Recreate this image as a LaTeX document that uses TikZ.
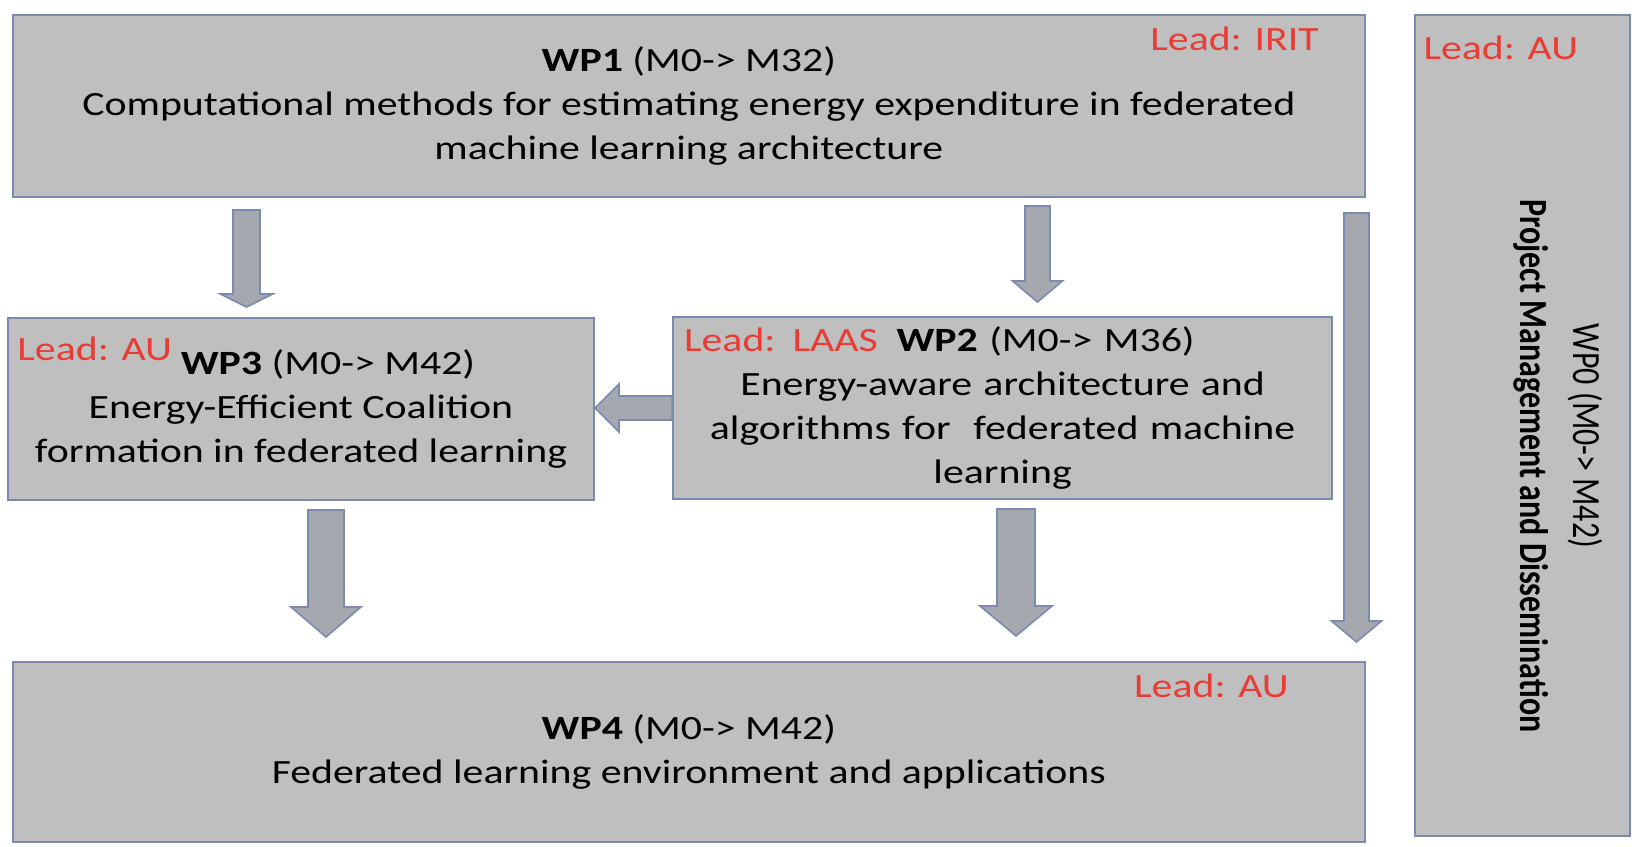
\documentclass[tikz,border=0pt]{standalone}
\usepackage{fontspec}
\setmainfont[FakeStretch=1.23]{Carlito}
\newfontfamily\sidefont[FakeStretch=0.8]{Carlito}
\usepackage{tikz}
\usetikzlibrary{positioning}
\usetikzlibrary{calc}
\usepackage{xcolor}

\definecolor{boxgray}{RGB}{191,191,191}
\definecolor{edgeblue}{RGB}{124,138,176}
\definecolor{arrowgray}{RGB}{166,168,176}
\definecolor{leadred}{RGB}{232,60,52}

% block arrow: from, to, half shaft, half head, head length
\newcommand{\wparrow}[5]{%
  \coordinate (hb) at ($(#2)!#5!(#1)$);
  \filldraw[wp arrow]
    ($(#1)!#3!90:(#2)$) -- ($(hb)!#3!-90:(#1)$) -- ($(hb)!#4!-90:(#1)$)
    -- (#2) -- ($(hb)!#4!90:(#1)$) -- ($(hb)!#3!90:(#1)$)
    -- ($(#1)!#3!-90:(#2)$) -- cycle;
}

\begin{document}
\begin{tikzpicture}[
    x=1pt, y=1pt,
    font=\fontsize{17}{22}\selectfont,
    wp box/.style={draw=edgeblue, fill=boxgray, line width=1pt, align=center, inner sep=0pt},
    wp arrow/.style={draw=edgeblue, fill=arrowgray, line width=0.8pt, line join=miter},
    lead/.style={text=leadred, inner sep=0pt},
    side/.style={rotate=-90, inner sep=0pt, font=\sidefont\fontsize{20}{24}\selectfont}
]
\useasboundingbox (0,0) rectangle (819,-423);

\node[wp box, minimum width=676.3pt, minimum height=91pt] (wpone) at (344.4,-53)
    {\textbf{WP1} (M0-> M32)\\
     Computational methods for estimating energy expenditure in federated\\
     machine learning architecture};

\node[wp box, minimum width=293pt, minimum height=91pt] (wpthree) at (150.5,-204.5)
    {\hspace*{27pt}\textbf{WP3} (M0-> M42)\\
     Energy-Efficient Coalition\\
     formation in federated learning};

\node[wp box, minimum width=329.5pt, minimum height=91pt, text width=318.5pt] (wptwo) at (501.3,-204)
    {{\color{leadred}Lead: LAAS}\hspace{0.55em}\textbf{WP2} (M0-> M36)\hskip 0pt plus 1filll\null\\
     Energy-aware architecture and\\
     algorithms for\ \ federated machine\\
     learning};

\node[wp box, minimum width=676.3pt, minimum height=90pt] (wpfour) at (344.4,-376)
    {\textbf{WP4} (M0-> M42)\\
     Federated learning environment and applications};

\node[wp box, minimum width=107.5pt, minimum height=410.5pt] (wpzero) at (761.3,-212.8) {};

\node[lead, anchor=base east] (wponelead) at ($(wpone.north east)+(-23.5,-18)$) {Lead: IRIT};
\node[lead, anchor=base west] (wpthreelead) at ($(wpthree.north west)+(5,-21.5)$) {Lead: AU};
\node[lead, anchor=base east] (wpfourlead) at ($(wpfour.north east)+(-38.5,-18)$) {Lead: AU};
\node[lead, anchor=base west] (wpzerolead) at ($(wpzero.north west)+(4.5,-22.5)$) {Lead: AU};

\node[side] (wpzerotitle) at ($(wpzero.center)+(31.2,-5.2)$) {WP0 (M0-> M42)};
\node[side, font=\sidefont\fontsize{20}{24}\selectfont\bfseries] (wpzeroname) at ($(wpzero.center)+(4.2,-20.2)$)
    {Project Management and Dissemination};

\coordinate (oneleft) at ($(123.25,0 |- wpone.south)+(0,-6)$);
\coordinate (threetop) at ($(123.25,0 |- wpthree.north)+(0,5)$);
\coordinate (onemid) at ($(518.75,0 |- wpone.south)+(0,-4)$);
\coordinate (twotop) at ($(518.75,0 |- wptwo.north)+(0,7)$);
\coordinate (oneright) at ($(678.25,0 |- wpone.south)+(0,-7.5)$);
\coordinate (fourright) at ($(678.25,0 |- wpfour.north)+(0,9.5)$);
\coordinate (threeside) at (wpthree.east |- wptwo.west);
\coordinate (threelow) at ($(163,0 |- wpthree.south)+(0,-4.5)$);
\coordinate (fourleft) at ($(163,0 |- wpfour.north)+(0,12)$);
\coordinate (twolow) at ($(508,0 |- wptwo.south)+(0,-4.5)$);
\coordinate (fourmid) at ($(508,0 |- wpfour.north)+(0,12.5)$);

\wparrow{oneleft}{threetop}{6.75pt}{13pt}{6.5pt}
\wparrow{onemid}{twotop}{6.25pt}{12.5pt}{10.5pt}
\wparrow{oneright}{fourright}{6.25pt}{12.5pt}{10.5pt}
\wparrow{wptwo.west}{threeside}{6pt}{12pt}{12pt}
\wparrow{threelow}{fourleft}{9pt}{17.5pt}{15pt}
\wparrow{twolow}{fourmid}{9.5pt}{18pt}{15pt}

\end{tikzpicture}
\end{document}
